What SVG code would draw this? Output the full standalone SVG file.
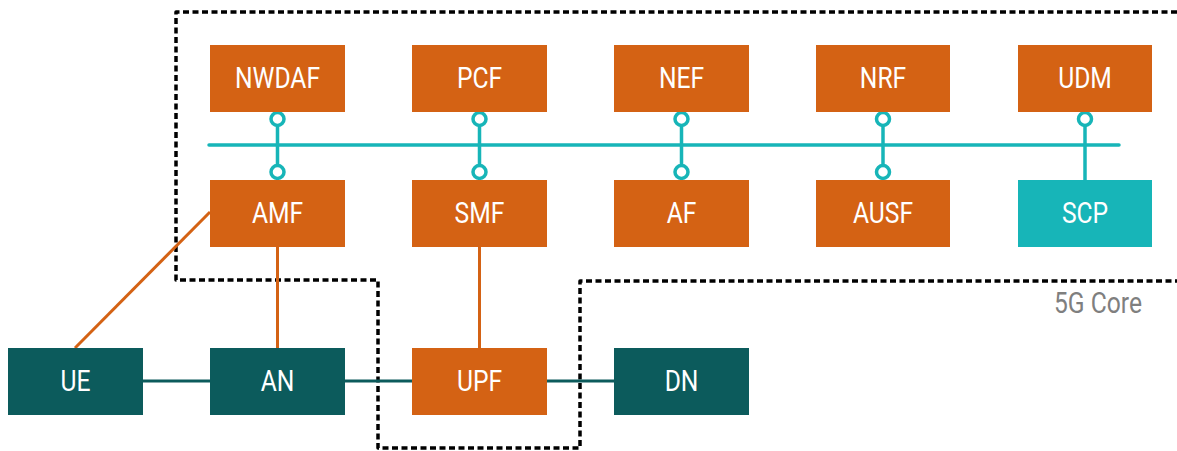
<svg xmlns="http://www.w3.org/2000/svg" width="1177" height="451" viewBox="0 0 1177 451">
  <style>
    .nf { fill: #D46214; }
    .ext { fill: #0C5B5C; }
    .scp { fill: #17B5B8; }
    .lbl { font-family: Roboto, "Liberation Sans", sans-serif; font-size: 29px; fill: #FFFFFF; text-anchor: middle; dominant-baseline: central; }
    .bus { stroke: #17B5B8; stroke-width: 3.5; fill: none; stroke-linecap: round; }
    .port { stroke: #17B5B8; stroke-width: 3.5; fill: #FFFFFF; }
    .ctl { stroke: #D46214; stroke-width: 3; fill: none; }
    .usr { stroke: #0C5B5C; stroke-width: 3; fill: none; }
    .core { stroke: #000000; stroke-width: 3.5; fill: none; stroke-dasharray: 6 3.5; stroke-linejoin: round; }
    .caption { font-family: Roboto, "Liberation Sans", sans-serif; font-size: 29px; fill: #7F7F7F; text-anchor: end; }
  </style>

  <!-- 5G core boundary -->
  <path class="core" d="M1177 12 H176 V280 H378 V448 H580 V281 H1177"/>
  <text class="caption" transform="translate(1142 313) scale(0.85 1)">5G Core</text>

  <g id="connectors">
    <!-- service-based bus -->
    <line class="bus" x1="209" y1="145" x2="1119" y2="145"/>
    <line class="bus" x1="277.5" y1="119" x2="277.5" y2="172"/>
    <line class="bus" x1="479.5" y1="119" x2="479.5" y2="172"/>
    <line class="bus" x1="681.5" y1="119" x2="681.5" y2="172"/>
    <line class="bus" x1="883" y1="119" x2="883" y2="172"/>
    <line class="bus" x1="1085" y1="119" x2="1085" y2="180"/>
    <circle class="port" cx="277.5" cy="119" r="6.5"/>
    <circle class="port" cx="479.5" cy="119" r="6.5"/>
    <circle class="port" cx="681.5" cy="119" r="6.5"/>
    <circle class="port" cx="883" cy="119" r="6.5"/>
    <circle class="port" cx="1085" cy="119" r="6.5"/>
    <circle class="port" cx="277.5" cy="172" r="6.5"/>
    <circle class="port" cx="479.5" cy="172" r="6.5"/>
    <circle class="port" cx="681.5" cy="172" r="6.5"/>
    <circle class="port" cx="883" cy="172" r="6.5"/>
    <!-- control plane -->
    <line class="ctl" x1="210" y1="212" x2="75" y2="348"/>
    <line class="ctl" x1="277.5" y1="247" x2="277.5" y2="348"/>
    <line class="ctl" x1="479.5" y1="247" x2="479.5" y2="348"/>
    <!-- user plane -->
    <line class="usr" x1="143" y1="381" x2="210" y2="381"/>
    <line class="usr" x1="345" y1="381" x2="412" y2="381"/>
    <line class="usr" x1="547" y1="381" x2="614" y2="381"/>
  </g>

  <g id="nwdaf"><rect class="nf" x="210" y="45" width="135" height="67"/><text class="lbl" transform="translate(277.5 78) scale(0.85 1)">NWDAF</text></g>
  <g id="pcf"><rect class="nf" x="412" y="45" width="135" height="67"/><text class="lbl" transform="translate(479.5 78) scale(0.85 1)">PCF</text></g>
  <g id="nef"><rect class="nf" x="614" y="45" width="135" height="67"/><text class="lbl" transform="translate(681.5 78) scale(0.85 1)">NEF</text></g>
  <g id="nrf"><rect class="nf" x="816" y="45" width="134" height="67"/><text class="lbl" transform="translate(883 78) scale(0.85 1)">NRF</text></g>
  <g id="udm"><rect class="nf" x="1018" y="45" width="134" height="67"/><text class="lbl" transform="translate(1085 78) scale(0.85 1)">UDM</text></g>

  <g id="amf"><rect class="nf" x="210" y="180" width="135" height="67"/><text class="lbl" transform="translate(277.5 213) scale(0.85 1)">AMF</text></g>
  <g id="smf"><rect class="nf" x="412" y="180" width="135" height="67"/><text class="lbl" transform="translate(479.5 213) scale(0.85 1)">SMF</text></g>
  <g id="af"><rect class="nf" x="614" y="180" width="135" height="67"/><text class="lbl" transform="translate(681.5 213) scale(0.85 1)">AF</text></g>
  <g id="ausf"><rect class="nf" x="816" y="180" width="134" height="67"/><text class="lbl" transform="translate(883 213) scale(0.85 1)">AUSF</text></g>
  <g id="scp"><rect class="scp" x="1018" y="180" width="134" height="67"/><text class="lbl" transform="translate(1085 213) scale(0.85 1)">SCP</text></g>

  <g id="ue"><rect class="ext" x="8" y="348" width="135" height="67"/><text class="lbl" transform="translate(75.5 381) scale(0.85 1)">UE</text></g>
  <g id="an"><rect class="ext" x="210" y="348" width="135" height="67"/><text class="lbl" transform="translate(277.5 381) scale(0.85 1)">AN</text></g>
  <g id="upf"><rect class="nf" x="412" y="348" width="135" height="67"/><text class="lbl" transform="translate(479.5 381) scale(0.85 1)">UPF</text></g>
  <g id="dn"><rect class="ext" x="614" y="348" width="135" height="67"/><text class="lbl" transform="translate(681.5 381) scale(0.85 1)">DN</text></g>
</svg>
